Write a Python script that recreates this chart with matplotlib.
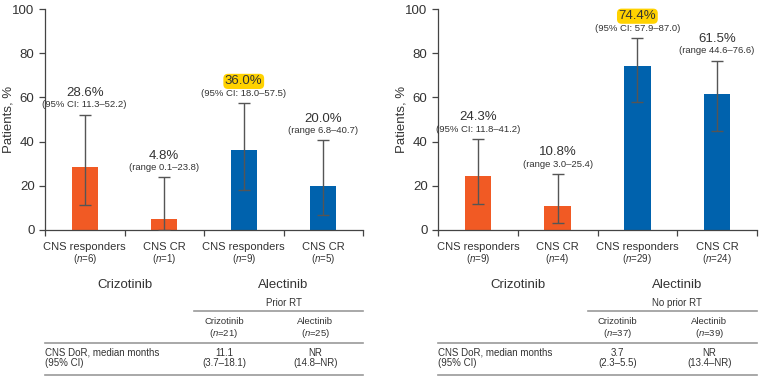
import matplotlib
matplotlib.use("Agg")
import matplotlib.pyplot as plt
from matplotlib.transforms import blended_transform_factory
from matplotlib.lines import Line2D

# ---- data ----
categories = ["CNS responders", "CNS CR", "CNS responders", "CNS CR"]
groups = ["Crizotinib", "Alectinib"]
ci_kind = ["95% CI:", "range", "95% CI:", "range"]

prior_n = [6, 1, 9, 5]
prior_pct = [28.6, 4.8, 36.0, 20.0]
prior_lo = [11.3, 0.1, 18.0, 6.8]
prior_hi = [52.2, 23.8, 57.5, 40.7]

noprior_n = [9, 4, 29, 24]
noprior_pct = [24.3, 10.8, 74.4, 61.5]
noprior_lo = [11.8, 3.0, 57.9, 44.6]
noprior_hi = [41.2, 25.4, 87.0, 76.6]

highlight = 2

table_rows = ["Prior RT", "No prior RT"]
prior_dor_n = [21, 25]
prior_dor_med = ["11.1", "NR"]
prior_dor_ci = ["3.7\u201318.1", "14.8\u2013NR"]
noprior_dor_n = [37, 39]
noprior_dor_med = ["3.7", "NR"]
noprior_dor_ci = ["2.3\u20135.5", "13.4\u2013NR"]

# ---- style ----
orange = "#F15A24"
blue = "#0062AD"
bar_colors = [orange, orange, blue, blue]
txt = "#333333"
gray_line = "#9A9A9A"

plt.rcParams["font.family"] = ["Liberation Sans", "DejaVu Sans"]
plt.rcParams["mathtext.fontset"] = "custom"
plt.rcParams["mathtext.rm"] = "Liberation Sans"
plt.rcParams["mathtext.it"] = "Liberation Sans:italic"

W, H = 767, 385
fig = plt.figure(figsize=(W / 100, H / 100), dpi=100)


def fy(px):
    return 1 - px / H


def panel(left_px, right_px, n, pct, lo, hi, row_title, dor_n, dor_med, dor_ci):
    ax = fig.add_axes([left_px / W, fy(230), (right_px - left_px) / W, fy(9) - fy(230)])
    x = list(range(len(categories)))
    yerr = [[p - l for p, l in zip(pct, lo)], [h - p for p, h in zip(pct, hi)]]
    ax.bar(x, pct, width=0.33, color=bar_colors, edgecolor="none", zorder=2)
    ax.errorbar(x, pct, yerr=yerr, fmt="none", ecolor="#555555", elinewidth=1,
                capsize=4, capthick=1, zorder=3)
    ax.set_xlim(-0.5, 3.5)
    ax.set_ylim(0, 100)
    ax.set_yticks([0, 20, 40, 60, 80, 100])
    ax.set_xticks([-0.5, 0.5, 1.5, 2.5, 3.5])
    ax.set_xticklabels([])
    for s in ["top", "right"]:
        ax.spines[s].set_visible(False)
    for s in ["left", "bottom"]:
        ax.spines[s].set_color("#444444")
        ax.spines[s].set_linewidth(0.9)
    ax.tick_params(axis="both", colors="#444444", length=4, width=0.9,
                   labelsize=9.5, labelcolor=txt)
    ax.tick_params(axis="x", direction="out")
    ax.set_ylabel("Patients, %", fontsize=9.5, color=txt)
    ax.yaxis.set_label_coords(-30 / (right_px - left_px), 0.5)

    for i in x:
        ax.annotate("(%s %.1f\u2013%.1f)" % (ci_kind[i], lo[i], hi[i]), (i, hi[i]),
                    xytext=(0, 7), textcoords="offset points", ha="center",
                    va="center", fontsize=6.8, color=txt)
        box = None
        if i == highlight:
            box = dict(boxstyle="round,pad=0.12,rounding_size=0.35", fc="#FFD200", ec="none")
        ax.annotate("%.1f%%" % pct[i], (i, hi[i]), xytext=(0, 15.5),
                    textcoords="offset points", ha="center", va="center",
                    fontsize=9.5, color=txt, bbox=box)

    tr = blended_transform_factory(ax.transData, fig.transFigure)
    for i in x:
        ax.text(i, fy(247), categories[i], transform=tr, ha="center", va="center",
                fontsize=8, color=txt)
        ax.text(i, fy(258.5), "($n$=%d)" % n[i], transform=tr, ha="center",
                va="center", fontsize=7, color=txt)
    for g, gx in zip(groups, [0.5, 2.5]):
        ax.text(gx, fy(285), g, transform=tr, ha="center", va="center",
                fontsize=9.5, color=txt)

    # DoR table
    c1, c2 = 1.75, 2.9
    ax.text(2.5, fy(303), row_title, transform=tr, ha="center", va="center",
            fontsize=7, color=txt)
    fig.add_artist(Line2D([1.38, 3.5], [fy(311), fy(311)], transform=tr,
                          color=gray_line, lw=1.2))
    for cx, name, nn in zip([c1, c2], groups, dor_n):
        ax.text(cx, fy(321), name, transform=tr, ha="center", va="center",
                fontsize=6.8, color=txt)
        ax.text(cx, fy(333), "($n$=%d)" % nn, transform=tr, ha="center",
                va="center", fontsize=6.8, color=txt)
    fig.add_artist(Line2D([-0.5, 3.5], [fy(343), fy(343)], transform=tr,
                          color=gray_line, lw=1.2))
    ax.text(-0.5, fy(352.5), "CNS DoR, median months", transform=tr, ha="left",
            va="center", fontsize=7, color=txt)
    ax.text(-0.5, fy(363.5), "(95% CI)", transform=tr, ha="left", va="center",
            fontsize=7, color=txt)
    for cx, med, ci in zip([c1, c2], dor_med, dor_ci):
        ax.text(cx, fy(352.5), med, transform=tr, ha="center", va="center",
                fontsize=7, color=txt)
        ax.text(cx, fy(363.5), "(%s)" % ci, transform=tr, ha="center", va="center",
                fontsize=7, color=txt)
    fig.add_artist(Line2D([-0.5, 3.5], [fy(375), fy(375)], transform=tr,
                          color=gray_line, lw=1.2))
    return ax


panel(45, 363, prior_n, prior_pct, prior_lo, prior_hi, table_rows[0],
      prior_dor_n, prior_dor_med, prior_dor_ci)
panel(438, 757, noprior_n, noprior_pct, noprior_lo, noprior_hi, table_rows[1],
      noprior_dor_n, noprior_dor_med, noprior_dor_ci)

fig.savefig("out.png", dpi=100, facecolor="white")
